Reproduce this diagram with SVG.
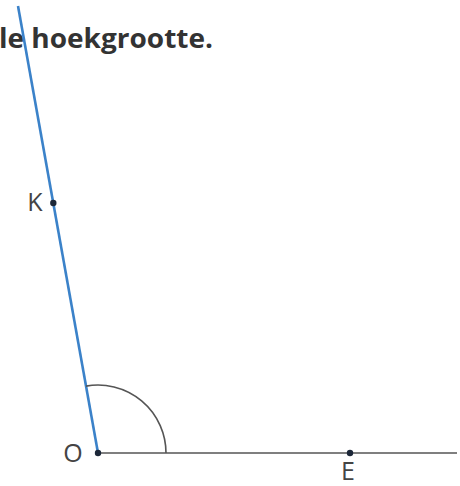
<svg xmlns="http://www.w3.org/2000/svg" width="460" height="486" viewBox="0 0 460 486">
<style>
.lbl{font-family:"Open Sans","Noto Sans",sans-serif;font-size:25px;fill:#444}
.title{font-family:"Open Sans","Noto Sans",sans-serif;font-size:26px;font-weight:bold;fill:#333}
.dot{fill:#1c2738}
.ray{stroke:#555;stroke-width:1.6;fill:none}
.blue{stroke:#3b82c9;stroke-width:2.6;fill:none}
</style>
<rect width="460" height="486" fill="#fff"/>
<text class="title" x="-1" y="48" textLength="214" lengthAdjust="spacingAndGlyphs">le hoekgrootte.</text>
<g id="connectors">
<line class="ray" x1="98" y1="453" x2="457" y2="453"/>
<line class="blue" x1="98" y1="453" x2="18" y2="6"/>
<path class="ray" d="M166 453 A68 68 0 0 0 86 386.1" stroke-width="1.3"/>
</g>
<g id="O"><circle class="dot" cx="98" cy="453" r="3.2"/><text class="lbl" x="73" y="462" text-anchor="middle">O</text></g>
<g id="K"><circle class="dot" cx="53.3" cy="203" r="3.2"/><text class="lbl" x="35" y="211" text-anchor="middle">K</text></g>
<g id="E"><circle class="dot" cx="350" cy="453" r="3.2"/><text class="lbl" x="348" y="480" text-anchor="middle">E</text></g>
</svg>
